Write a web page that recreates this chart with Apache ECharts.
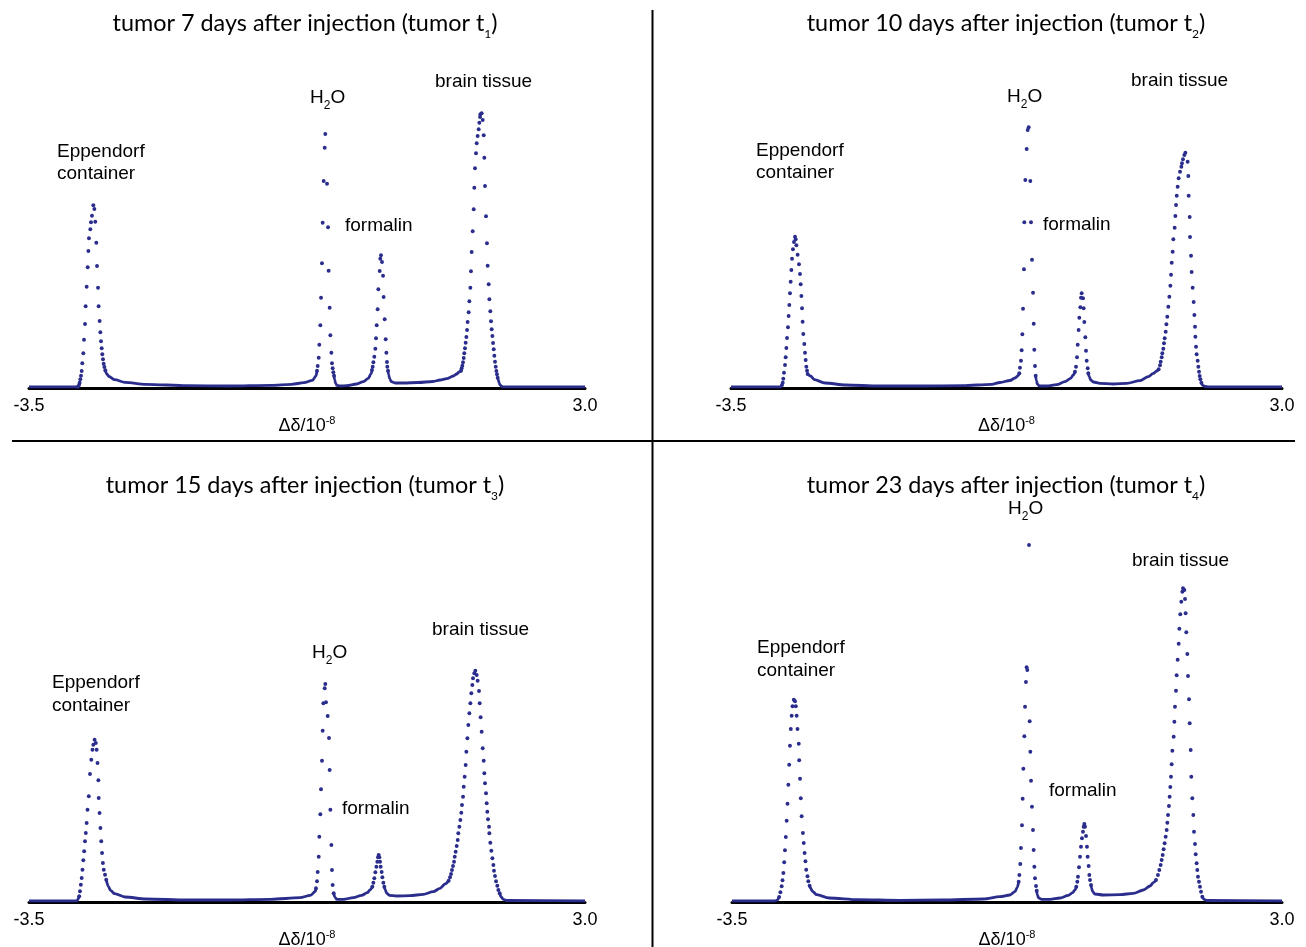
<!DOCTYPE html>
<html><head><meta charset="utf-8">
<script src="https://cdn.jsdelivr.net/npm/echarts@6/dist/echarts.min.js"></script>
<style>html,body{margin:0;padding:0;background:#fff}#c{width:1306px;height:947px}</style>
</head><body><div id="c"></div>
<script>
// ---------- data (chemical shift in ppm, intensity in arbitrary units) ----------
const xTickValues = [-3.5, 3.0];
const xAxisLabel = 'Δδ/10';
const xAxisExp = '-8';
const panelDays = [7, 10, 15, 23];
const panelIndex = ['1', '2', '3', '4'];
const peakNames = ['Eppendorf', 'container', 'H', '2', 'O', 'formalin', 'brain tissue'];

// tumor t1 (7 days)
const t1Dots = [
 [-2.927,1.3],[-2.915,3],[-2.908,5.3],[-2.900,8.7],[-2.892,12.3],[-2.884,17],[-2.877,24.7],[-2.865,34.7],[-2.857,48.3],[-2.845,64],[-2.838,81.7],[-2.826,101.3],[-2.814,120.7],[-2.806,137],[-2.799,149.7],[-2.783,158.7],[-2.775,165.7],[-2.764,172.3],[-2.748,182.7],
 [-2.736,179],[-2.725,166.3],[-2.713,145.3],[-2.705,122],[-2.693,100.3],[-2.686,81.7],[-2.674,67],[-2.666,55.7],[-2.658,46.7],[-2.650,39.7],[-2.643,33.7],[-2.635,28.7],[-2.627,24.3],[-2.619,21],[-2.608,17.7],
 [-0.133,17.3],[-0.125,22],[-0.113,30.3],[-0.106,43.3],[-0.094,62.7],[-0.086,90.3],[-0.075,124.7],[-0.067,165.3],[-0.055,207],[-0.043,240.3],[-0.036,254],
 [-0.016,204.3],[-0.004,160.7],[0.003,117.3],[0.015,80.3],[0.023,52.7],[0.035,35.3],[0.042,24.7],[0.050,19.7],[0.058,15.7],[0.066,12.3],
 [0.510,18],[0.518,21.3],[0.526,25.7],[0.537,31.3],[0.549,39.3],[0.557,49.7],[0.565,62.7],[0.576,78.7],[0.584,98.7],[0.600,117],[0.607,129.3],[0.615,132.7],
 [0.627,126],[0.639,112.3],[0.646,91],[0.658,68.7],[0.670,48.7],[0.678,35.3],[0.685,26],[0.689,21.3],[0.697,17.3],
 [1.551,17.3],[1.558,19.7],[1.566,22.3],[1.574,25.7],[1.582,30],[1.589,34.7],[1.597,39.7],[1.605,45.3],[1.613,51],[1.621,58],[1.628,66],[1.640,75.7],[1.648,86.7],[1.660,100.3],[1.667,116.7],[1.675,136],[1.687,156.7],[1.699,178.7],[1.706,200.3],[1.714,219.7],[1.726,234.7],[1.734,244.7],[1.745,252],[1.757,258.7],[1.765,265.3],[1.773,271],[1.777,273.7],[1.792,274.7],
 [1.804,268],[1.816,252.7],[1.823,230.3],[1.831,202],[1.843,171.7],[1.854,144.7],[1.862,122.3],[1.874,103.7],[1.882,88.7],[1.893,76.7],[1.901,66.7],[1.909,58.7],[1.917,52],[1.925,45],[1.933,38.7],[1.940,32.3],[1.948,26.3],[1.956,21.3],[1.964,17],[1.971,13.7],[1.979,10.3]
];
const t1Base = [
 [[-3.5,1.2],[-2.945,1.2],[-2.927,1.3]],
 [[-2.608,17.7],[-2.590,14],[-2.565,11.5],[-2.499,8.3],[-2.378,5.7],[-2.134,3.7],[-1.647,2.3],[-1.162,2],[-0.673,2.7],[-0.429,3.7],[-0.285,5.3],[-0.186,7.7],[-0.145,12],[-0.133,17.3]],
 [[0.066,12.3],[0.074,8],[0.085,4.7],[0.097,2.7],[0.136,2],[0.214,2.3],[0.331,4],[0.409,6.3],[0.467,9.7],[0.498,14],[0.510,18]],
 [[0.697,17.3],[0.705,13],[0.716,9.3],[0.736,6.3],[0.779,5],[0.876,5],[1.050,5.5],[1.223,6.5],[1.305,8],[1.383,9.3],[1.461,12],[1.500,14],[1.527,16],[1.551,17.3]],
 [[1.979,10.3],[1.987,8],[1.995,5.3],[2.007,3],[2.026,1.6],[2.046,1.2],[3.0,1.2]]
];

// tumor t2 (10 days)
const t2Dots = [
 [-2.898,3],[-2.890,5.3],[-2.883,9.3],[-2.875,15.3],[-2.863,23],[-2.855,30.7],[-2.847,40],[-2.839,50],[-2.828,60.7],[-2.820,72],[-2.812,83],[-2.804,94.7],[-2.796,106.3],[-2.788,118],[-2.780,129.3],[-2.769,138.7],[-2.757,146],[-2.745,151.3],
 [-2.737,148.7],[-2.729,142.7],[-2.714,133.3],[-2.698,123.7],[-2.686,114],[-2.678,103.7],[-2.670,92],[-2.662,79.7],[-2.655,66.3],[-2.647,54],[-2.635,44],[-2.627,35.3],[-2.619,28],[-2.611,21.3],[-2.603,17.3],[-2.596,14],
 [-0.099,14.7],[-0.091,20.3],[-0.079,27.3],[-0.071,37.7],[-0.063,53.7],[-0.055,79.3],[-0.044,118.7],[-0.040,165.7],[-0.028,208],[-0.012,239],[0.000,258],[0.012,260.7],
 [0.031,207],[0.039,165.7],[0.051,128.3],[0.063,95.3],[0.071,64.3],[0.078,38.3],[0.086,22],[0.094,12.3],
 [0.558,16.3],[0.570,21.3],[0.582,30.7],[0.590,43.3],[0.601,58],[0.609,70.3],[0.621,80.7],[0.629,90.3],[0.637,94.7],
 [0.653,89.7],[0.660,79.7],[0.668,66],[0.680,50.7],[0.688,37.3],[0.696,27.3],[0.708,19.7],[0.715,14.7],
 [1.545,18.7],[1.561,22.7],[1.569,26.3],[1.581,30.7],[1.588,34.7],[1.600,39.3],[1.608,44.7],[1.616,49.7],[1.628,56.3],[1.636,63.7],[1.647,71.3],[1.659,81.3],[1.671,91.3],[1.683,102.3],[1.691,113.3],[1.699,125.3],[1.710,136.3],[1.718,148.7],[1.734,160.3],[1.742,172],[1.750,183],[1.758,192.3],[1.769,201.3],[1.781,209.7],[1.797,216.3],[1.813,221.3],[1.820,224.7],[1.832,228.7],[1.848,233],[1.860,235.3],
 [1.887,226.3],[1.895,212],[1.899,192.3],[1.911,171],[1.915,151],[1.927,132.3],[1.934,116],[1.946,100.3],[1.958,86],[1.966,73],[1.974,61.3],[1.978,51.3],[1.986,41.3],[1.993,33.7],[2.005,27.3],[2.013,21.3],[2.021,16.3],[2.029,12],[2.037,8.7],[2.049,5.3]
];
const t2Base = [
 [[-3.5,1.2],[-2.915,1.2],[-2.898,3]],
 [[-2.596,14],[-2.563,12],[-2.514,8.3],[-2.391,5],[-2.146,3],[-1.754,2],[-1.261,2],[-0.769,2.3],[-0.425,3.7],[-0.327,5.5],[-0.209,7.5],[-0.150,10],[-0.110,12.5],[-0.099,14.7]],
 [[0.094,12.3],[0.102,7.3],[0.114,4],[0.137,2],[0.224,2],[0.342,3.3],[0.440,6.3],[0.507,9.7],[0.538,13],[0.558,16.3]],
 [[0.715,14.7],[0.727,11.3],[0.743,8],[0.774,6],[0.853,4.7],[1.010,4],[1.168,4.7],[1.325,7.3],[1.423,11.3],[1.482,14.7],[1.522,17],[1.545,18.7]],
 [[2.049,5.3],[2.064,2.7],[2.092,1.5],[2.131,1.2],[3.0,1.2]]
];

// tumor t3 (15 days)
const t3Dots = [
 [-2.913,5.7],[-2.904,10.7],[-2.894,17.3],[-2.884,24],[-2.875,32.3],[-2.865,41.7],[-2.855,50.7],[-2.845,60.7],[-2.836,69],[-2.826,79],[-2.816,92.3],[-2.801,105.7],[-2.787,128],[-2.772,142.3],[-2.758,152.3],[-2.748,157.3],[-2.733,162.3],
 [-2.719,159],[-2.709,152.3],[-2.699,139],[-2.689,121.7],[-2.685,104],[-2.675,89],[-2.665,74],[-2.655,60.7],[-2.646,49],[-2.636,39],[-2.626,32.3],[-2.611,27.3],[-2.597,22.3],
 [-0.145,13.7],[-0.133,20.7],[-0.125,30],[-0.113,45.3],[-0.106,65.3],[-0.094,87.7],[-0.086,112.7],[-0.075,141.3],[-0.067,171.3],[-0.059,198.7],[-0.043,213.7],[-0.036,218],
 [-0.028,199.7],[-0.008,186],[0.007,164],[0.015,132],[0.023,92.3],[0.035,57],[0.042,32],[0.050,17],[0.062,8.7],
 [0.514,15.3],[0.526,19.3],[0.537,23.7],[0.549,29.7],[0.561,35.3],[0.572,40.3],[0.580,44.7],[0.588,47],
 [0.596,44.7],[0.604,40.3],[0.611,35.3],[0.623,30],[0.631,24.7],[0.643,19.3],[0.654,15.3],
 [1.406,21.3],[1.422,24.7],[1.434,28],[1.445,32],[1.457,36],[1.469,40.3],[1.477,45.3],[1.488,50.3],[1.500,56],[1.512,62],[1.519,68.7],[1.531,75.3],[1.543,82],[1.554,89.3],[1.562,97],[1.574,105.3],[1.582,115.3],[1.593,125.3],[1.605,137],[1.613,150.3],[1.625,163.7],[1.636,177],[1.648,188.7],[1.660,198.7],[1.671,208.7],[1.683,217],[1.691,223.7],[1.706,228.7],[1.718,231.3],
 [1.734,227],[1.745,221.3],[1.761,211],[1.769,198.7],[1.780,184.7],[1.792,170.3],[1.804,153.7],[1.816,141.3],[1.823,128.7],[1.831,118.7],[1.843,108.7],[1.851,98.7],[1.858,90.3],[1.866,82.7],[1.878,75.3],[1.882,68.7],[1.893,59.3],[1.905,51.3],[1.917,43.7],[1.929,37],[1.936,31.3],[1.948,26],[1.960,20.7],[1.975,16.3],[1.987,12],[2.003,8.7]
];
const t3Base = [
 [[-3.5,1.2],[-2.94,1.2],[-2.913,5.7]],
 [[-2.597,22.3],[-2.573,15.7],[-2.548,11.7],[-2.499,8.3],[-2.378,5],[-2.134,3],[-1.647,2],[-1.160,2],[-0.673,2.7],[-0.332,4.3],[-0.210,6.7],[-0.152,10.7],[-0.145,13.7]],
 [[0.062,8.7],[0.077,4.7],[0.097,2.7],[0.175,2.7],[0.292,4.3],[0.389,6.7],[0.455,9.3],[0.487,12],[0.514,15.3]],
 [[0.654,15.3],[0.666,12],[0.682,8.7],[0.713,6.7],[0.798,6],[0.954,6.3],[1.110,7.7],[1.227,10.3],[1.305,13.7],[1.364,18],[1.406,21.3]],
 [[2.003,8.7],[2.018,5.3],[2.045,2.7],[2.084,1.5],[3.0,1.2]]
];

// tumor t4 (23 days)
const t4Dots = [
 [-2.943,5],[-2.928,9.7],[-2.913,15.7],[-2.903,21.7],[-2.893,29],[-2.883,39.7],[-2.874,51.7],[-2.864,65],[-2.854,81.3],[-2.844,98.3],[-2.834,117.3],[-2.824,137.3],[-2.815,156.3],[-2.805,173],[-2.795,186.3],[-2.785,195.7],[-2.770,202.3],
 [-2.755,200.7],[-2.746,195.7],[-2.736,186.3],[-2.726,173],[-2.711,158.3],[-2.706,141.7],[-2.696,123.3],[-2.687,103.7],[-2.677,85.7],[-2.662,69],[-2.652,59],[-2.642,49],[-2.632,40.7],[-2.623,32.3],[-2.608,25.7],[-2.598,20.7],[-2.583,16.3],
 [-0.112,20.3],[-0.104,27],[-0.093,38],[-0.085,54],[-0.073,76.7],[-0.065,103.3],[-0.057,133.3],[-0.045,165.7],[-0.037,195.3],[-0.026,220],[-0.018,234.7],[-0.010,232],[0.010,357],
 [0.018,180.7],[0.026,150.3],[0.034,121.3],[0.045,95.3],[0.057,72],[0.065,52],[0.073,35.3],[0.081,23.7],[0.093,16],[0.101,11.3],
 [0.569,15.3],[0.581,20.3],[0.589,25.3],[0.601,34.7],[0.613,45.3],[0.624,55.3],[0.636,63.7],[0.648,70.3],[0.656,75.3],[0.664,78],
 [0.672,75.3],[0.684,66],[0.695,55.3],[0.703,45.3],[0.715,36],[0.723,27],[0.731,22],[0.743,17],
 [1.511,22],[1.534,27],[1.550,32],[1.566,37],[1.578,42],[1.590,47],[1.601,52.7],[1.613,58.7],[1.625,65.3],[1.637,72],[1.645,79.3],[1.653,87],[1.664,96],[1.672,105.3],[1.680,115],[1.688,125.3],[1.696,137.7],[1.704,151.3],[1.720,165.3],[1.728,180.3],[1.735,195.3],[1.747,211.3],[1.755,226.7],[1.767,242.3],[1.779,258.3],[1.787,273.3],[1.798,287.7],[1.810,300.3],[1.822,310.3],[1.830,313.7],
 [1.846,312],[1.854,303],[1.861,288.7],[1.869,269.7],[1.881,248],[1.889,226],[1.901,202.7],[1.909,178.7],[1.921,152],[1.928,125.3],[1.940,103.7],[1.952,87],[1.960,70.3],[1.972,58],[1.980,47.7],[1.991,38.7],[1.999,32],[2.007,25.3],[2.019,20.3],[2.031,15.3],[2.043,10.3],[2.058,5.3]
];
const t4Base = [
 [[-3.5,1.2],[-2.99,1.2],[-2.965,1.8],[-2.943,5]],
 [[-2.583,16.3],[-2.573,14],[-2.549,10.7],[-2.499,7.3],[-2.351,4],[-2.007,2.3],[-1.515,1.7],[-1.022,2],[-0.530,3],[-0.333,5.3],[-0.215,7],[-0.156,10.3],[-0.128,14.7],[-0.112,20.3]],
 [[0.101,11.3],[0.108,7],[0.124,4],[0.160,2.7],[0.258,2.7],[0.376,4],[0.475,6.7],[0.526,9.3],[0.554,12],[0.569,15.3]],
 [[0.743,17],[0.751,13.7],[0.762,10.3],[0.790,8],[0.888,7],[1.085,7.3],[1.243,8.7],[1.361,12],[1.440,16],[1.479,19.3],[1.511,22]],
 [[2.058,5.3],[2.078,2.7],[2.110,1.5],[3.0,1.2]]
];

// ---------- layout / style ----------
const BLUE = '#2a2d8c';
const allDots = [t1Dots, t2Dots, t3Dots, t4Dots];
const allBase = [t1Base, t2Base, t3Base, t4Base];
const grids = [
  {left: 29, top: 8, width: 556, height: 380},
  {left: 731, top: 8, width: 551, height: 380},
  {left: 29, top: 522, width: 556, height: 380},
  {left: 732, top: 522, width: 550, height: 380}
];
// label anchors: [x, centerY]
const labelPos = [
  {title:[305,23], epp:[57,152], cont:[57,174], h2o:[310,98], form:[345,226], brain:[435,82]},
  {title:[1006,23], epp:[756,151], cont:[756,173], h2o:[1007,97], form:[1043,225], brain:[1131,81]},
  {title:[305,485], epp:[52,683], cont:[52,706], h2o:[312,653], form:[342,809], brain:[432,630]},
  {title:[1006,485], epp:[757,648], cont:[757,671], h2o:[1008,509], form:[1049,791], brain:[1132,561]}
];
const LBL_FONT = 'Liberation Sans';
const TITLE_FONT = 'Lato';

const titles = [];
const series = [];
const xAxes = [], yAxes = [];
for (let i = 0; i < 4; i++) {
  xAxes.push({
    type: 'value', gridIndex: i, min: xTickValues[0], max: xTickValues[1],
    axisLine: {show: true, onZero: false, lineStyle: {color: '#000', width: 3}},
    axisTick: {show: false}, splitLine: {show: false},
    axisLabel: {
      customValues: xTickValues, showMinLabel: true, showMaxLabel: true,
      formatter: v => v.toFixed(1), color: '#000', fontFamily: LBL_FONT, fontSize: 18, margin: 9
    },
    name: '{a|' + xAxisLabel + '}{s|' + xAxisExp + '}',
    nameLocation: 'middle', nameGap: 19,
    nameTextStyle: {
      rich: {
        a: {fontFamily: LBL_FONT, fontSize: 18, fontWeight: 'normal', color: '#000', lineHeight: 20},
        s: {fontFamily: LBL_FONT, fontSize: 11, fontWeight: 'normal', color: '#000', lineHeight: 11, verticalAlign: 'top'}
      }
    }
  });
  yAxes.push({type: 'value', gridIndex: i, min: 0, max: 380, show: false});
  series.push({
    type: 'scatter', xAxisIndex: i, yAxisIndex: i, data: allDots[i],
    symbol: 'circle', symbolSize: 3.9, itemStyle: {color: BLUE, opacity: 1}, silent: true, z: 3
  });
  allBase[i].forEach(seg => series.push({
    type: 'line', xAxisIndex: i, yAxisIndex: i, data: seg, showSymbol: false,
    smooth: 0.3, smoothMonotone: 'x', silent: true, z: 2,
    lineStyle: {color: BLUE, width: 2.8}
  }));
  const L = labelPos[i];
  titles.push({
    text: '{a|tumor ' + panelDays[i] + ' days after injection (tumor t}{s|' + panelIndex[i] + '}{a|)}',
    left: L.title[0], top: L.title[1] - 17, textAlign: 'center', padding: 0,
    textStyle: {fontWeight: 'normal', rich: {
      a: {fontFamily: TITLE_FONT, fontSize: 23.4, fontWeight: 'normal', color: '#000', lineHeight: 34},
      s: {fontFamily: TITLE_FONT, fontSize: 12, fontWeight: 'normal', color: '#000', lineHeight: 12, verticalAlign: 'bottom'}
    }}
  });
  const plain = (txt, p) => ({
    text: txt, left: p[0], top: p[1] - 11, padding: 0,
    textStyle: {fontFamily: LBL_FONT, fontSize: 19, fontWeight: 'normal', color: '#000', lineHeight: 22}
  });
  titles.push(plain(peakNames[0], L.epp));
  titles.push(plain(peakNames[1], L.cont));
  titles.push(plain(peakNames[5], L.form));
  titles.push(plain(peakNames[6], L.brain));
  titles.push({
    text: '{a|' + peakNames[2] + '}{s|' + peakNames[3] + '}{a|' + peakNames[4] + '}',
    left: L.h2o[0], top: L.h2o[1] - 14, padding: 0,
    textStyle: {fontWeight: 'normal', rich: {
      a: {fontFamily: LBL_FONT, fontSize: 19, fontWeight: 'normal', color: '#000', lineHeight: 28},
      s: {fontFamily: LBL_FONT, fontSize: 12, fontWeight: 'normal', color: '#000', lineHeight: 12, verticalAlign: 'bottom'}
    }}
  });
}

const chart = echarts.init(document.getElementById('c'), null, {renderer: 'canvas'});
chart.setOption({
  animation: false,
  backgroundColor: '#fff',
  title: titles,
  grid: grids.map(g => Object.assign({containLabel: false, outerBoundsMode: 'none'}, g)),
  xAxis: xAxes,
  yAxis: yAxes,
  series: series,
  graphic: [
    {type: 'line', shape: {x1: 652.5, y1: 10, x2: 652.5, y2: 947}, style: {stroke: '#000', lineWidth: 2}, silent: true},
    {type: 'line', shape: {x1: 12, y1: 441, x2: 1295, y2: 441}, style: {stroke: '#000', lineWidth: 2}, silent: true}
  ]
});
</script>
</body></html>
